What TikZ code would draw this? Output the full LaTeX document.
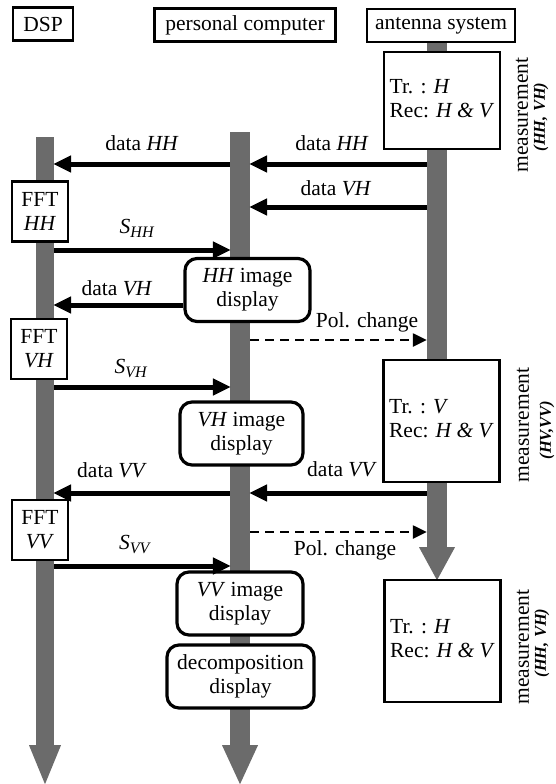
\documentclass[tikz,border=0pt]{standalone}
\usepackage{fontspec}
\setmainfont{Liberation Serif}
\usetikzlibrary{arrows.meta,calc}
\newcommand{\mysub}[2]{\textit{#1}\raisebox{-4pt}{\fontsize{16}{16}\selectfont\textit{#2}}}
\begin{document}
\begin{tikzpicture}[x=1pt,y=-1pt,
  every node/.style={font=\fontsize{21.5}{24}\selectfont, inner sep=0pt},
  hdr/.style={draw, line width=2.3pt, minimum height=33pt},
  bar/.style={fill=black!58, minimum width=20pt, inner sep=0pt},
  barhead/.style={fill=black!58},
  fftbox/.style={draw, line width=2.3pt, fill=white, minimum width=56pt, minimum height=60pt, align=center},
  measbox/.style={draw, line width=2.8pt, fill=white, minimum width=116pt},
  dispbox/.style={draw, line width=3.2pt, fill=white, rounded corners=12pt, minimum height=63pt, align=center},
  arr/.style={line width=5pt, -{Triangle[length=18pt,width=16pt]}, shorten >=-1pt},
  darr/.style={line width=2.4pt, dash pattern=on 9pt off 6pt, -{Triangle[length=14pt,width=13pt]}},
  meas/.style={rotate=90},
  pol/.style={rotate=90, font=\fontsize{16.5}{17}\selectfont\bfseries\itshape}
]
\useasboundingbox (0,0) rectangle (555,784);

% headers
\node[hdr, minimum width=60pt] (dsp) at (43,24) {DSP};
\node[hdr, minimum width=181pt] (pc) at (245,25) {personal computer};
\node[hdr, minimum width=148pt] (ant) at (441,25.5) {antenna system};

% lifeline bars
\node[bar, minimum width=18pt, minimum height=608pt] (dspbar) at (45,441) {};
\node[bar, minimum height=613pt] (pcbar) at (240,438.5) {};
\node[bar, minimum height=504pt] (antbar) at (437,295) {};
\fill[barhead] ($(dspbar.south)+(-16,0)$) -- ($(dspbar.south)+(16,0)$) -- ($(dspbar.south)+(0,39)$) -- cycle;
\fill[barhead] ($(pcbar.south)+(-18,0)$) -- ($(pcbar.south)+(18,0)$) -- ($(pcbar.south)+(0,39)$) -- cycle;
\fill[barhead] ($(antbar.south)+(-18,0)$) -- ($(antbar.south)+(18,0)$) -- ($(antbar.south)+(0,33)$) -- cycle;

% measurement boxes
\node[measbox, minimum height=97pt] (m1) at (442,100.5)
  {\raisebox{-7pt}{\begin{tabular}{@{}l@{}}Tr. : \textit{H}\\Rec: \textit{H \& V}\end{tabular}}};
\node[measbox, minimum height=122pt] (m2) at (441.5,421)
  {\raisebox{3pt}{\begin{tabular}{@{}l@{}}Tr. : \textit{V}\\Rec: \textit{H \& V}\end{tabular}}};
\node[measbox, minimum height=122pt] (m3) at (442.5,641)
  {\begin{tabular}{@{}l@{}}Tr. : \textit{H}\\Rec: \textit{H \& V}\end{tabular}};

\node[meas] (mt1) at (522,115) {measurement};
\node[pol] (mp1) at (541,117) {(HH, VH)};
\node[meas] (mt2) at (523,425) {measurement};
\node[pol] (mp2) at (547,430) {(HV,VV)};
\node[meas] (mt3) at (523,647) {measurement};
\node[pol] (mp3) at (542,643) {(HH, VH)};

% FFT boxes
\node[fftbox] (ffthh) at (40,211.5) {FFT\\\textit{HH}};
\node[fftbox] (fftvh) at (39,349) {FFT\\\textit{VH}};
\node[fftbox] (fftvv) at (40,530) {FFT\\\textit{VV}};

% display boxes
\node[dispbox, minimum width=125pt] (hhdisp) at (247.5,290) {\textit{HH} image\\display};
\node[dispbox, minimum width=123pt] (vhdisp) at (241.5,433.5) {\textit{VH} image\\display};
\node[dispbox, minimum width=126pt] (vvdisp) at (240,603.5) {\textit{VV} image\\display};
\node[dispbox, minimum width=147pt] (decdisp) at (240.5,676.5) {decomposition\\display};

% row coordinates
\coordinate (r1) at (0,164);
\coordinate (r2) at (0,207);
\coordinate (r3) at (0,250);
\coordinate (r4) at (0,305);
\coordinate (r5) at (0,340);
\coordinate (r6) at (0,387);
\coordinate (r7) at (0,493);
\coordinate (r8) at (0,532);
\coordinate (r9) at (0,566);

% connectors
\draw[arr] (antbar.west |- r1) -- (pcbar.east |- r1);
\draw[arr] (pcbar.west |- r1) -- (dspbar.east |- r1);
\draw[arr] (antbar.west |- r2) -- (pcbar.east |- r2);
\draw[arr] (dspbar.east |- r3) -- (pcbar.west |- r3);
\draw[arr] (hhdisp.west |- r4) -- (dspbar.east |- r4);
\draw[darr] (pcbar.east |- r5) -- (antbar.west |- r5);
\draw[arr] (dspbar.east |- r6) -- (pcbar.west |- r6);
\draw[arr] (antbar.west |- r7) -- (pcbar.east |- r7);
\draw[arr] (pcbar.west |- r7) -- (dspbar.east |- r7);
\draw[darr] (pcbar.east |- r8) -- (antbar.west |- r8);
\draw[arr] (dspbar.east |- r9) -- (pcbar.west |- r9);

% labels
\node (l1) at (142,143) {data \textit{HH}};
\node (l2) at (332,143) {data \textit{HH}};
\node (l3) at (336,188) {data \textit{VH}};
\node (l4) at (137,228) {\mysub{S}{HH}};
\node (l5) at (117,288) {data \textit{VH}};
\node (l6) at (367,322) {Pol. change};
\node (l7) at (131,368) {\mysub{S}{VH}};
\node (l8) at (342,469) {data \textit{VV}};
\node (l9) at (112,470) {data \textit{VV}};
\node (l10) at (345,550) {Pol. change};
\node (l11) at (135,544) {\mysub{S}{VV}};
\end{tikzpicture}
\end{document}
